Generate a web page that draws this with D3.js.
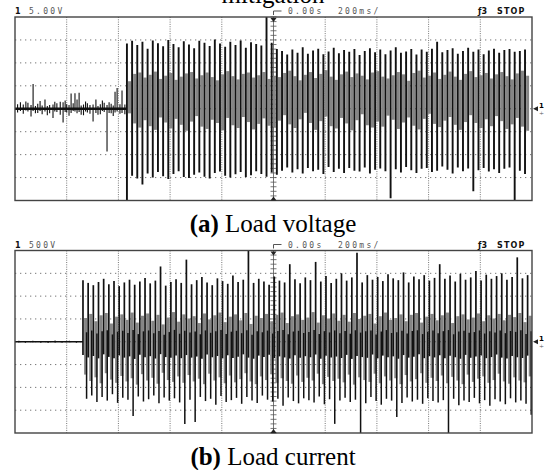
<!DOCTYPE html>
<html>
<head>
<meta charset="utf-8">
<script src="https://cdn.jsdelivr.net/npm/d3@7"></script>
<style>
body { margin: 0; background: #fff; }
.hdr { font-family: "DejaVu Sans Mono", monospace; font-size: 8px; fill: #555; letter-spacing: 2.3px; }
.hdrb { font-family: "DejaVu Sans", sans-serif; font-size: 8px; font-weight: bold; fill: #111; }
.cap { font-family: "Liberation Serif", "Times New Roman", serif; font-size: 25px; fill: #000; }
</style>
</head>
<body>
<svg width="547" height="470"></svg>
<script>
var svg = d3.select('svg');

// time base: 10 div x 200ms, trigger at centre
var timeDomain = [-1000, 1000];
var period = 20; // ms, 50 Hz

// ---- panel (a) load voltage, 5 V/div ----
var vStart = -567;
var vHi = [14.2,14.8,13.9,14.6,13.1,14.9,14.3,13.6,15.0,14.1,13.4,14.7,14.0,13.2,14.8,14.4,13.7,15.1,14.2,13.5,14.6,13.9,14.9,13.3,14.5,14.1,13.8,22.0,14.4,13.0,
  12.6,11.8,12.9,12.2,13.4,12.0,12.7,13.1,11.9,12.5,13.3,12.1,12.8,12.4,13.0,11.7,12.6,13.2,12.3,12.9,11.9,12.7,13.4,12.2,12.5,13.0,11.8,12.9,12.4,13.1,
  14.6,12.3,12.8,13.2,12.0,12.6,13.3,12.4,12.9,11.9,12.7,13.1,12.2,12.8,13.0,12.4,12.6,12.9];
var vLo = [-21.0,-14.6,-15.2,-16.5,-14.1,-15.0,-13.8,-14.7,-15.3,-14.2,-13.6,-14.9,-15.1,-14.4,-13.9,-14.8,-15.2,-14.0,-13.7,-14.6,-15.0,-14.3,-13.8,-14.9,-14.5,-13.6,-14.2,-14.8,-13.9,-14.4,
  -13.5,-12.8,-13.9,-13.2,-14.1,-12.9,-13.6,-13.3,-14.2,-12.7,-13.8,-13.1,-14.0,-12.9,-13.5,-13.7,-12.8,-14.1,-13.3,-13.0,-13.6,-19.5,-13.2,-13.9,-12.7,-13.4,-14.0,-13.1,-12.9,-13.8,
  -13.5,-12.6,-13.3,-14.1,-12.8,-13.6,-13.0,-18.0,-13.4,-12.9,-13.7,-13.2,-14.0,-13.1,-12.8,-21.0,-13.5,-14.2];
var vBandHi = [6.0,7.6,7.9,6.8,7.4,8.1,6.5,7.2,7.8,6.3,7.0,7.7,8.0,6.6,7.3,7.9,6.9,6.2,7.5,8.2,7.1,6.4,7.6,7.9,6.8,7.3,8.0,6.5,7.2,6.9,
  7.8,8.3,7.1,6.2,7.4,8.0,6.7,7.6,8.4,7.0,6.3,7.5,8.1,6.9,7.7,7.2,6.4,7.9,8.2,7.0,6.6,7.3,8.0,7.5,6.1,7.8,8.3,6.8,7.2,7.9,
  6.5,7.4,8.1,7.0,6.3,7.6,8.2,6.9,7.3,7.8,6.6,7.5,8.0,7.1,6.4,7.7,8.3,7.2];
var vBandLo = [-1.0,-3.2,-4.1,-2.5,-3.8,-4.6,-1.9,-3.0,-4.3,-2.2,-3.5,-4.8,-2.8,-1.6,-3.9,-4.4,-2.4,-3.1,-4.7,-2.0,-3.6,-4.2,-1.8,-2.9,-4.5,-3.3,-2.1,-3.7,-4.0,-2.6,
  -1.4,-3.4,-4.2,-2.3,-0.9,-3.1,-4.6,-2.7,-1.7,-3.8,-4.3,-2.0,-3.2,-4.7,-2.5,-1.2,-3.6,-4.1,-2.8,-3.9,-1.5,-2.4,-4.4,-3.0,-1.9,-3.7,-4.5,-2.2,-1.1,-3.3,
  -4.0,-2.6,-1.8,-3.5,-4.6,-2.9,-1.4,-3.1,-4.2,-2.3,-3.8,-1.6,-2.7,-4.4,-3.4,-2.0,-3.9,-4.8];
// noise spikes before start: [t, low, high]
var vNoise = [[-990,-0.8,1.0],[-979,-0.5,1.4],[-968,-1.1,0.9],[-958,-0.4,1.6],[-950,-0.6,1.3],[-938,-1.7,0.8],[-930,-0.5,5.4],[-921,-1.0,0.6],
  [-912,-0.9,1.1],[-903,-0.5,1.7],[-895,-1.2,0.7],[-884,-0.6,2.0],[-875,-1.4,0.6],[-866,-1.0,0.8],[-853,-2.0,0.9],[-846,-0.6,1.5],
  [-838,-0.7,1.2],[-825,-1.3,1.5],[-814,-3.0,1.4],[-806,-0.7,1.8],[-800,-0.8,1.0],[-791,-1.5,0.8],[-783,-0.9,3.3],[-775,-0.5,1.2],
  [-768,-0.6,3.4],[-760,-1.0,2.0],[-752,-0.7,3.5],[-744,-1.3,0.7],[-735,-1.4,0.9],[-727,-0.6,1.6],[-720,-0.8,1.2],[-710,-1.1,0.8],
  [-698,-2.8,0.9],[-687,-0.9,2.0],[-679,-1.3,0.6],[-670,-1.2,1.0],[-662,-0.5,1.8],[-655,-0.7,1.3],[-644,-9.3,0.8],[-636,-0.9,1.4],
  [-628,-1.0,1.1],[-620,-1.6,0.7],[-613,-0.8,3.7],[-605,-0.6,4.5],[-594,-1.1,1.0],[-586,-0.9,4.0],[-575,-1.2,0.9]];

// ---- panel (b) load current, 500 /div ----
var iStart = -737;
var iHi = [1350,1290,1240,1310,1380,1260,1330,1220,1300,1360,1250,1320,1400,1280,1340,1650,1230,1310,1370,1290,
  1800,1260,1350,1420,1300,1240,1390,1330,1270,1450,1310,1360,2100,1290,1380,1320,1250,1430,1340,1300,
  1700,1370,1280,1410,1350,1750,1320,1440,1290,1380,1500,1340,1410,1950,1300,1460,1360,1420,1330,1480,
  1390,1350,1520,1300,1430,1370,1460,1340,1400,1700,1380,1450,1320,1490,1360,1410,1550,1340,1470,1380,
  1440,1500,1360,1420,1850,1390,1460];
var iLo = [-1250,-1180,-1320,-1210,-1290,-1150,-1340,-1230,-1270,-1630,-1200,-1310,-1260,-1180,-1350,-1220,-1290,-1240,-1330,-1800,
  -1270,-1760,-1210,-1300,-1250,-1380,-1190,-1320,-1280,-1230,-1360,-1210,-1290,-1340,-1180,-1270,-1310,-1250,-1400,-1220,
  -1300,-1350,-1240,-1280,-1330,-1200,-1370,-1260,-1800,-1290,-1230,-1320,-1270,-2100,-1350,-1210,-1300,-1380,-1250,-1290,
  -1650,-1340,-1220,-1310,-1270,-1360,-1240,-1300,-1330,-1280,-2100,-1250,-1390,-1290,-1320,-1230,-1350,-1280,-1400,-1260,
  -1310,-1370,-1240,-1330,-1290,-1360,-1600];
var iBandHi = [520,610,450,580,630,400,550,600,480,640,420,570,620,460,590,380,530,650,440,600,
  510,560,410,620,490,580,640,430,550,600,470,630,390,570,520,610,450,590,640,410,
  560,600,480,530,650,420,580,510,620,460,590,440,630,500,570,610,400,560,640,480,
  520,600,450,590,630,420,550,610,470,580,640,410,560,600,490,530,620,450,580,510,
  610,470,590,540,630,430,570];
var iBandLo = [-720,-860,-780,-910,-690,-830,-900,-750,-870,-800,-940,-710,-850,-790,-920,-680,-840,-880,-760,-900,
  -730,-870,-810,-930,-700,-850,-780,-910,-740,-890,-820,-690,-870,-930,-760,-840,-710,-900,-800,-860,
  -920,-740,-880,-790,-850,-700,-930,-770,-860,-810,-890,-720,-940,-780,-840,-880,-700,-910,-760,-850,
  -800,-930,-730,-870,-820,-690,-900,-790,-860,-740,-910,-770,-850,-930,-720,-880,-810,-760,-900,-840,
  -700,-870,-920,-780,-850,-890,-760];
var iNoise = [[-985,-15,20],[-960,-20,10],[-931,-10,20],[-900,-20,15],[-872,-25,10],[-845,-15,25],[-818,-20,15],[-790,-10,20],[-762,-20,15]];

var panels = [
  {top: 17, bottom: 200.5, perDiv: 5, scaleText: '5.00V', start: vStart, hi: vHi, lo: vLo, bHi: vBandHi, bLo: vBandLo,
   noise: vNoise, mode: 'v', title: ['(a)', ' Load voltage'], capY: 232},
  {top: 250.5, bottom: 433, perDiv: 500, scaleText: '500V', start: iStart, hi: iHi, lo: iLo, bHi: iBandHi, bLo: iBandLo,
   noise: iNoise, mode: 'i', title: ['(b)', ' Load current'], capY: 465}
];

var left = 15, right = 532;
var x = d3.scaleLinear().domain(timeDomain).range([left, right]);

// cut-off figure title above
svg.append('text').attr('class', 'cap').attr('x', 273).attr('y', 3)
  .attr('text-anchor', 'middle').text('mitigation');

panels.forEach(function(p, k) {
  var y = d3.scaleLinear().domain([-4 * p.perDiv, 4 * p.perDiv]).range([p.bottom, p.top]);
  var g = svg.append('g');
  var cid = 'clip' + k;
  g.append('clipPath').attr('id', cid).append('rect')
    .attr('x', left).attr('y', p.top).attr('width', right - left).attr('height', p.bottom - p.top);

  // graticule
  var xt = d3.range(-800, 1000, 200);
  var yt = d3.range(-3, 4).map(function(d) { return d * p.perDiv; });
  g.selectAll('.vg').data(xt).enter().append('line')
    .attr('x1', function(d) { return x(d); }).attr('x2', function(d) { return x(d); })
    .attr('y1', p.top).attr('y2', p.bottom)
    .attr('stroke', '#777').attr('stroke-width', 1).attr('stroke-dasharray', d => d === 0 ? '0' : '1,1.3');
  g.selectAll('.hg').data(yt).enter().append('line')
    .attr('x1', left).attr('x2', right)
    .attr('y1', function(d) { return y(d); }).attr('y2', function(d) { return y(d); })
    .attr('stroke', '#777').attr('stroke-width', 1).attr('stroke-dasharray', '1.3,3.7');
  // minor ticks on centre axis
  var minor = d3.range(-20, 21).map(function(d) { return d * p.perDiv / 5; });
  g.selectAll('.mt').data(minor).enter().append('line')
    .attr('x1', x(0) - 3).attr('x2', x(0) + 3)
    .attr('y1', function(d) { return y(d); }).attr('y2', function(d) { return y(d); })
    .attr('stroke', '#555').attr('stroke-width', 0.8);

  var sig = g.append('g').attr('clip-path', 'url(#' + cid + ')');

  // baseline trace before the converter starts
  sig.append('line').attr('x1', x(-1000)).attr('x2', x(p.start))
    .attr('y1', y(0)).attr('y2', y(0))
    .attr('stroke', '#111').attr('stroke-width', p.mode === 'v' ? 2.6 : 1.6);
  sig.selectAll('.nz').data(p.noise).enter().append('line')
    .attr('x1', function(d) { return x(d[0]); }).attr('x2', function(d) { return x(d[0]); })
    .attr('y1', function(d) { return y(d[1]); }).attr('y2', function(d) { return y(d[2]); })
    .attr('stroke', '#111').attr('stroke-width', 1.1);

  var cyc = p.hi.map(function(h, i) {
    return {t: p.start + i * period, hi: h, lo: p.lo[i], bHi: p.bHi[i], bLo: p.bLo[i]};
  });

  // grey dense band
  sig.selectAll('.band').data(cyc).enter().append('rect')
    .attr('x', function(d) { return x(d.t) + 1.1; })
    .attr('width', 3.0)
    .attr('y', function(d) { return y(d.bHi); })
    .attr('height', function(d) { return y(d.bLo) - y(d.bHi); })
    .attr('fill', '#858585');

  if (p.mode === 'v') {
    sig.selectAll('.pk').data(cyc).enter().append('line')
      .attr('x1', function(d) { return x(d.t); }).attr('x2', function(d) { return x(d.t); })
      .attr('y1', function(d) { return y(d.hi); }).attr('y2', function(d) { return y(d.lo); })
      .attr('stroke', '#111').attr('stroke-width', 1.9);
  } else {
    sig.selectAll('.pkh').data(cyc).enter().append('line')
      .attr('x1', function(d) { return x(d.t); }).attr('x2', function(d) { return x(d.t); })
      .attr('y1', function(d) { return y(d.hi); }).attr('y2', function(d) { return y(d.bLo * 0.4); })
      .attr('stroke', '#111').attr('stroke-width', 1.7);
    sig.selectAll('.pkl').data(cyc).enter().append('line')
      .attr('x1', function(d) { return x(d.t) + 3.6; }).attr('x2', function(d) { return x(d.t) + 3.6; })
      .attr('y1', function(d) { return y(d.bHi * 0.4); }).attr('y2', function(d) { return y(d.lo); })
      .attr('stroke', '#111').attr('stroke-width', 1.5);
  }

  // frame
  g.append('rect').attr('x', left).attr('y', p.top).attr('width', right - left).attr('height', p.bottom - p.top)
    .attr('fill', 'none').attr('stroke', '#444').attr('stroke-width', 1.4);

  // trigger markers on centre axis
  var cx = x(0);
  g.append('path').attr('d', 'M' + (cx - 3) + ',' + (p.top + 1) + 'h6l-3,4z').attr('fill', '#222');
  g.append('path').attr('d', 'M' + (cx - 3) + ',' + (p.bottom) + 'h6l-3,-4z').attr('fill', '#222');
  g.append('path').attr('d', 'M' + cx + ',' + (p.top - 2) + 'V' + (p.top - 6) + 'h8')
    .attr('fill', 'none').attr('stroke', '#555').attr('stroke-width', 1);

  // ground marker at right
  var gy = y(0);
  g.append('path').attr('d', 'M533,' + gy + 'l5,-2.5v5z').attr('fill', '#222');
  g.append('text').attr('x', 539).attr('y', gy - 1).attr('font-size', 7).attr('font-family', 'DejaVu Sans')
    .attr('font-weight', 'bold').text('1');
  g.append('text').attr('x', 539).attr('y', gy + 6).attr('font-size', 6).attr('font-family', 'DejaVu Sans')
    .attr('fill', '#555').text('÷');

  // header line
  var hy = p.top - 3;
  g.append('text').attr('class', 'hdrb').attr('x', 15).attr('y', hy).text('1');
  g.append('text').attr('class', 'hdr').attr('x', 29).attr('y', hy).text(p.scaleText);
  g.append('text').attr('class', 'hdr').attr('x', 288).attr('y', hy).text('0.00s');
  g.append('text').attr('class', 'hdr').attr('x', 338).attr('y', hy).text('200ms/');
  g.append('text').attr('class', 'hdrb').attr('x', 478).attr('y', hy).text('\u01923');
  g.append('text').attr('class', 'hdrb').attr('x', 497).attr('y', hy).attr('letter-spacing', 1.2).text('STOP');

  // caption
  var cap = svg.append('text').attr('class', 'cap').attr('x', 273).attr('y', p.capY).attr('text-anchor', 'middle');
  cap.append('tspan').attr('font-weight', 'bold').text(p.title[0]);
  cap.append('tspan').text(p.title[1]);
});
</script>
</body>
</html>
